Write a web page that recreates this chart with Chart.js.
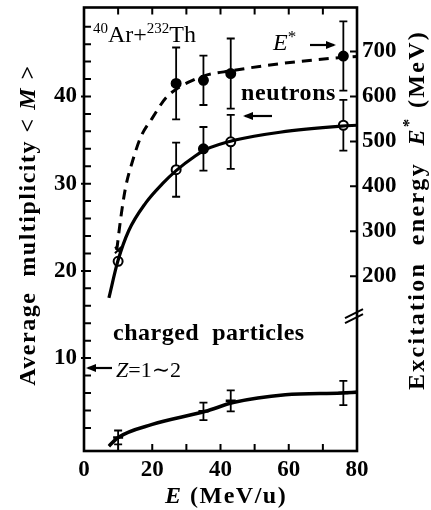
<!DOCTYPE html>
<html><head><meta charset="utf-8">
<script src="https://cdn.jsdelivr.net/npm/chart.js@4.4.1/dist/chart.umd.min.js"></script>
<style>html,body{margin:0;padding:0;background:#fff;}</style>
</head><body>
<canvas id="c" width="431" height="510"></canvas>
<script>
// ---- data ----
const beamEnergies = [10, 27, 35, 43, 76];            // E (MeV/u)
const excitation   = [258, 629, 636, 651, 690];       // E* (MeV), right axis
const excitErr     = [0, 80, 55, 78, 77];
const neutronMult  = [21.1, 31.6, 34.0, 34.8, 36.7];  // <M> neutrons
const neutronErr   = [0, 3.1, 2.5, 3.1, 2.9];
const chargedE     = [10, 35, 43, 76];
const chargedMult  = [0.9, 3.9, 5.1, 6.0];            // <M> charged particles
const chargedErr   = [0.8, 1.0, 1.2, 1.4];
// drawn fit curves
const exCurveE = [9.6, 10.8, 12.2, 14.3, 16.6, 20.1, 23.9, 27.4, 31.8, 35.6, 43, 57.4, 75.8, 80];
const exCurveV = [258, 331, 398, 458, 509, 553, 596, 618, 636, 647, 657, 673, 687, 689];
const nCurveE  = [7.3, 9.9, 13.1, 18.1, 23.0, 27.0, 32.7, 35.6, 44.3, 57.4, 75.5, 80];
const nCurveV  = [16.9, 21.1, 24.6, 27.8, 30.0, 31.5, 33.2, 33.9, 35.0, 35.9, 36.6, 36.7];
const cCurveE  = [7.3, 10, 20, 35.6, 43.7, 59, 75.5, 80];
const cCurveV  = [-0.1, 0.9, 2.4, 3.9, 4.9, 5.8, 6.0, 6.1];
// tick labels
const xTickLabels     = [0, 20, 40, 60, 80];
const xTickMarks      = [10, 20, 30, 40, 50, 60, 70];
const leftTickLabels  = [10, 20, 30, 40];
const leftTickMarks   = [2,4,6,8,10,12,14,16,18,20,22,24,26,28,30,32,34,36,38,40,42,44,46,48];
const rightTickLabels = [200, 300, 400, 500, 600, 700];

const SERIF = '"Liberation Serif", "DejaVu Serif", serif';
const tickFont = {family: SERIF, size: 23, weight: 'bold'};
const pts = (xs, vs) => xs.map((v, i) => ({x: v, y: vs[i]}));
const noPad = s => { s.paddingTop = 0; s.paddingBottom = 0; s.paddingLeft = 0; s.paddingRight = 0; };

const decor = {
  id: 'decor',
  beforeDatasetsDraw(chart) {
    const {ctx, scales: {x, y, y2}} = chart;
    ctx.save();
    ctx.strokeStyle = '#000';
    ctx.lineWidth = 1.8;
    const bars = (xs, vs, es, sc) => {
      xs.forEach((e, i) => {
        if (!es[i]) return;
        const px = x.getPixelForValue(e);
        const t = sc.getPixelForValue(vs[i] + es[i]);
        const b = sc.getPixelForValue(vs[i] - es[i]);
        ctx.beginPath();
        ctx.moveTo(px, t); ctx.lineTo(px, b);
        ctx.moveTo(px - 4, t); ctx.lineTo(px + 4, t);
        ctx.moveTo(px - 4, b); ctx.lineTo(px + 4, b);
        ctx.stroke();
      });
    };
    bars(beamEnergies, excitation, excitErr, y2);
    bars(beamEnergies, neutronMult, neutronErr, y);
    bars(chargedE, chargedMult, chargedErr, y);
    ctx.restore();
  },
  afterDraw(chart) {
    const {ctx, chartArea: a, scales: {x, y, y2}} = chart;
    ctx.save();
    ctx.strokeStyle = '#000';
    ctx.fillStyle = '#000';
    // frame
    ctx.lineWidth = 2.6;
    ctx.strokeRect(a.left, a.top, a.right - a.left, a.bottom - a.top);
    // inward ticks
    ctx.lineWidth = 2;
    ctx.beginPath();
    xTickMarks.forEach(v => {
      const px = x.getPixelForValue(v);
      ctx.moveTo(px, a.bottom); ctx.lineTo(px, a.bottom - 7);
      ctx.moveTo(px, a.top); ctx.lineTo(px, a.top + 7);
    });
    leftTickMarks.forEach(v => {
      const py = y.getPixelForValue(v);
      const major = v % 10 === 0;
      ctx.moveTo(a.left - (major ? 3 : 0), py); ctx.lineTo(a.left + 7, py);
    });
    rightTickLabels.forEach(v => {
      const py = y2.getPixelForValue(v);
      ctx.moveTo(a.right + 1, py); ctx.lineTo(a.right - 7, py);
    });
    ctx.stroke();
    // axis break on the right axis
    const by = y2.getPixelForValue(120);
    ctx.lineWidth = 2;
    ctx.beginPath();
    ctx.moveTo(a.right - 12, by + 6); ctx.lineTo(a.right + 6, by - 3);
    ctx.moveTo(a.right - 12, by + 11); ctx.lineTo(a.right + 6, by + 2);
    ctx.stroke();

    const arrow = (x1, yy, x2) => {
      ctx.lineWidth = 2.2;
      ctx.beginPath(); ctx.moveTo(x1, yy); ctx.lineTo(x2, yy); ctx.stroke();
      const d = Math.sign(x2 - x1);
      ctx.beginPath();
      ctx.moveTo(x2 + d * 2, yy);
      ctx.lineTo(x2 - d * 8, yy - 4);
      ctx.lineTo(x2 - d * 8, yy + 4);
      ctx.closePath(); ctx.fill();
    };
    ctx.textBaseline = 'alphabetic';
    ctx.textAlign = 'left';
    const seq = (parts, x0, y0) => {
      let cx = x0;
      parts.forEach(([txt, font, dy]) => {
        ctx.font = font;
        ctx.fillText(txt, cx, y0 + (dy || 0));
        cx += ctx.measureText(txt).width;
      });
      return cx;
    };
    // 40Ar + 232Th
    seq([['40', '15px ' + SERIF, -9], ['Ar+', '24px ' + SERIF], ['232', '15px ' + SERIF, -9], ['Th', '24px ' + SERIF]], 93, 42);
    // E* label with arrow
    seq([['E', 'italic 24px ' + SERIF], ['*', '17px ' + SERIF, -8]], 273, 50);
    arrow(310, 45, 334);
    // neutrons
    ctx.font = 'bold 24px ' + SERIF;
    ctx.letterSpacing = '0.6px';
    ctx.fillText('neutrons', 241, 100);
    arrow(272, 116, 245);
    // charged particles
    ctx.letterSpacing = '0.5px';
    ctx.font = 'bold 24px ' + SERIF;
    ctx.fillText('charged  particles', 113, 340);
    ctx.letterSpacing = '0px';
    arrow(112, 368, 88);
    seq([['Z', 'italic 22px ' + SERIF], ['=1∼2', '22px ' + SERIF]], 116, 377);
    // x title
    ctx.letterSpacing = '1.5px';
    seq([['E', 'italic bold 24px ' + SERIF], [' (MeV/u)', 'bold 24px ' + SERIF]], 165, 503);
    ctx.letterSpacing = '0px';

    // rotated titles
    const vtitle = (cx, cy, parts, spacing) => {
      ctx.save();
      ctx.translate(cx, cy);
      ctx.rotate(-Math.PI / 2);
      ctx.letterSpacing = spacing;
      let w = 0;
      parts.forEach(([t, f]) => { ctx.font = f; w += ctx.measureText(t).width; });
      ctx.textBaseline = 'middle';
      seq(parts, -w / 2, 0);
      ctx.restore();
    };
    vtitle(29, 225, [['Average  multiplicity < ', 'bold 24px ' + SERIF], ['M', 'italic bold 24px ' + SERIF], [' >', 'bold 24px ' + SERIF]], '1.5px');
    vtitle(418, 210, [['Excitation  energy  ', 'bold 24px ' + SERIF], ['E', 'italic bold 24px ' + SERIF], ['*', 'bold 17px ' + SERIF, -8], [' (MeV)', 'bold 24px ' + SERIF]], '2.3px');
    ctx.restore();
  }
};

new Chart(document.getElementById('c'), {
  type: 'scatter',
  data: {
    datasets: [
      {label: 'E* curve', data: pts(exCurveE, exCurveV), yAxisID: 'y2', showLine: true,
       borderColor: '#000', borderWidth: 3, borderDash: [10, 7], pointRadius: 0, cubicInterpolationMode: 'monotone'},
      {label: 'neutron curve', data: pts(nCurveE, nCurveV), yAxisID: 'y', showLine: true,
       borderColor: '#000', borderWidth: 3.2, pointRadius: 0, cubicInterpolationMode: 'monotone'},
      {label: 'charged curve', data: pts(cCurveE, cCurveV), yAxisID: 'y', showLine: true,
       borderColor: '#000', borderWidth: 3.6, pointRadius: 0, cubicInterpolationMode: 'monotone'},
      {label: 'E*', data: pts(beamEnergies, excitation), yAxisID: 'y2',
       pointStyle: ['crossRot', 'circle', 'circle', 'circle', 'circle'], pointRadius: 4.5,
       pointBackgroundColor: '#000', pointBorderColor: '#000', pointBorderWidth: 2},
      {label: 'neutrons', data: pts(beamEnergies, neutronMult), yAxisID: 'y',
       pointRadius: 4.5, pointBackgroundColor: ['#fff', '#fff', '#000', '#fff', '#fff'],
       pointBorderColor: '#000', pointBorderWidth: 2},
      {label: 'charged particles', data: pts(chargedE, chargedMult), yAxisID: 'y',
       pointStyle: 'line', pointRadius: 5, pointBorderColor: '#000', pointBorderWidth: 2.5}
    ]
  },
  options: {
    responsive: false, animation: false, devicePixelRatio: 1,
    layout: {padding: {top: 7, left: 0, right: 0, bottom: 0}},
    plugins: {legend: {display: false}, tooltip: {enabled: false}},
    scales: {
      x: {type: 'linear', position: 'bottom', min: 0, max: 80,
          afterBuildTicks: s => { s.ticks = xTickLabels.map(v => ({value: v})); },
          afterFit: s => { s.height = 59; noPad(s); },
          grid: {display: false, drawTicks: false}, border: {display: false},
          ticks: {padding: 5, font: tickFont, color: '#000', maxRotation: 0, autoSkip: false}},
      y: {type: 'linear', position: 'left', min: -0.65, max: 50.2,
          afterBuildTicks: s => { s.ticks = leftTickLabels.map(v => ({value: v})); },
          afterFit: s => { s.width = 84; noPad(s); },
          grid: {display: false, drawTicks: false}, border: {display: false},
          ticks: {padding: 7, font: tickFont, color: '#000', autoSkip: false}},
      y2: {type: 'linear', position: 'right', min: -189, max: 798,
          afterBuildTicks: s => { s.ticks = rightTickLabels.map(v => ({value: v})); },
          afterFit: s => { s.width = 74; noPad(s); },
          grid: {display: false, drawTicks: false}, border: {display: false},
          ticks: {padding: 5, font: tickFont, color: '#000', autoSkip: false}}
    }
  },
  plugins: [decor]
});
</script>
</body></html>
